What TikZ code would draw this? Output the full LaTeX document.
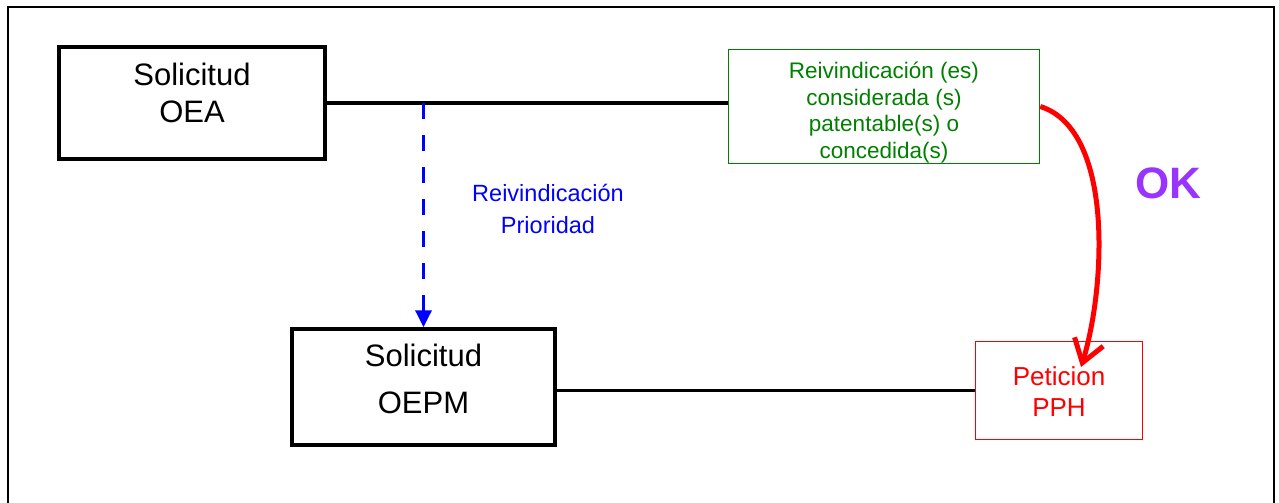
\documentclass[tikz,border=0pt]{standalone}
\usepackage{fontspec}
\setmainfont{Liberation Sans}
\usepackage{xcolor}
\usetikzlibrary{arrows.meta}
\definecolor{okpurple}{RGB}{153,51,255}
\definecolor{claimgreen}{RGB}{0,128,0}

\begin{document}
\begin{tikzpicture}[x=1pt,y=1pt,yscale=-1,xscale=1,
  appbox/.style={draw,line width=3.5,inner sep=0pt},
  thinbox/.style={draw,line width=1.5,inner sep=0pt}]
\useasboundingbox (0,0) rectangle (1279,503);
%Shape: Frame
\draw [line width=2]  (8,503) -- (8,7) -- (1274,7) -- (1274,503) ;
%Shape: Rectangle
\node [appbox, minimum width=266, minimum height=112] (oea) at (192,103) {};
%Shape: Rectangle
\node [thinbox, claimgreen, minimum width=311, minimum height=114] (claims) at (884,106.5) {};
%Shape: Rectangle
\node [appbox, minimum width=263, minimum height=116] (oepm) at (423.5,387) {};
%Shape: Rectangle
\node [thinbox, red, minimum width=167, minimum height=98] (pph) at (1059,390.5) {};
\coordinate (pphTip) at (1081,367) ;
%Straight Lines
\draw [line width=3.5]  (oea.east) -- (oea.east -| claims.west) ;
%Straight Lines
\draw [line width=3.5]  (pph.west -| oepm.east) -- (pph.west) ;
%Straight Lines
\draw [blue, line width=3.5, dash pattern=on 16pt off 16pt, -{Triangle[length=17pt,width=16pt]}]  (oepm.north |- oea.east) -- (oepm.north) ;
%Curve Lines
\draw [red, line width=5, -{Straight Barb[length=22pt,width=30pt]}]  (claims.east) .. controls (1115,130) and (1105,290) .. (pphTip) ;
% Text Node
\node [align=center, font={\fontsize{31}{37}\selectfont}] (oea-text) at ([yshift=-10.5]oea.center) {Solicitud\\OEA};
% Text Node
\node [align=center, font={\fontsize{31}{47}\selectfont}] (oepm-text) at ([yshift=-8.5]oepm.center) {Solicitud\\OEPM};
% Text Node
\node [align=center, claimgreen, font={\fontsize{22.5}{26.5}\selectfont}] (claims-text) at ([yshift=6]claims.center) {Reivindicación (es)\\considerada (s)\\patentable(s) o\\concedida(s)};
% Text Node
\node [align=center, blue, font={\fontsize{23.5}{32}\selectfont}] (priority) at (548,209) {Reivindicación\\Prioridad};
% Text Node
\node [align=center, red, font={\fontsize{26}{31}\selectfont}] (pph-text) at ([yshift=1.5]pph.center) {Peticion\\PPH};
% Text Node
\node [okpurple, font={\fontsize{44}{50}\selectfont\bfseries}] (ok) at (1168,183) {OK};
\end{tikzpicture}
\end{document}
